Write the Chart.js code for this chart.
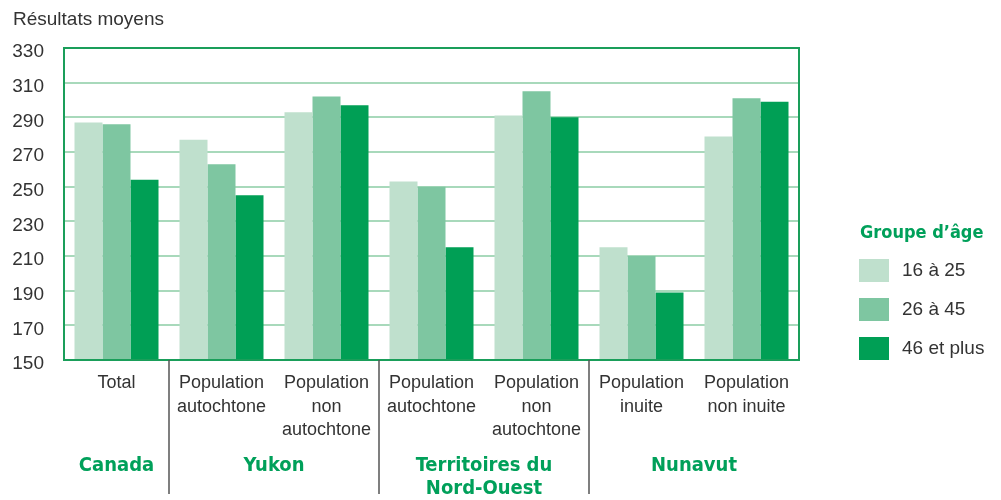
<!DOCTYPE html>
<html>
<head>
<meta charset="utf-8">
<script src="https://cdn.jsdelivr.net/npm/chart.js@4"></script>
<style>
  body { margin: 0; background: #fff; }
  #wrap { width: 1001px; height: 500px; }
</style>
</head>
<body>
<div id="wrap"><canvas id="chart" width="1001" height="500"></canvas></div>
<script>
// categories (x axis, one per bar group)
const categories = [
  ['Total'],
  ['Population', 'autochtone'],
  ['Population', 'non', 'autochtone'],
  ['Population', 'autochtone'],
  ['Population', 'non', 'autochtone'],
  ['Population', 'inuite'],
  ['Population', 'non inuite']
];
// regions and how many categories each spans
const regions = ['Canada', 'Yukon', ['Territoires du', 'Nord-Ouest'], 'Nunavut'];
const regionSpans = [1, 2, 2, 2];

const seriesNames = ['16 à 25', '26 à 45', '46 et plus'];
const age16to25 = [287, 277, 293, 253, 291, 215, 279];
const age26to45 = [286, 263, 302, 250, 305, 210, 301];
const age46plus = [254, 245, 297, 215, 290, 189, 299];

const yTicks = [150, 170, 190, 210, 230, 250, 270, 290, 310, 330];
const yTitle = 'Résultats moyens';
const legendTitle = 'Groupe d\u2019âge';

const colors = ['#bfe0cd', '#7ec6a1', '#009f55'];
const textColor = '#333333';
const green = '#1a9e5a';
const font = '"Liberation Sans", Arial, sans-serif';
const narrow = '"Liberation Sans Narrow", "DejaVu Sans Condensed", sans-serif';

const extras = {
  id: 'extras',
  afterDraw(chart) {
    const ctx = chart.ctx;
    const a = chart.chartArea;
    const x = chart.scales.x;
    ctx.save();

    // plot frame
    ctx.strokeStyle = green;
    ctx.lineWidth = 2;
    ctx.strokeRect(a.left, a.top, a.right - a.left, a.bottom - a.top);

    // y title
    ctx.fillStyle = textColor;
    ctx.font = '19px ' + font;
    ctx.textAlign = 'left';
    ctx.textBaseline = 'middle';
    ctx.fillText(yTitle, 13, 20);

    // region separators and names
    const half = (x.getPixelForValue(1) - x.getPixelForValue(0)) / 2;
    let start = 0;
    regions.forEach((name, i) => {
      const end = start + regionSpans[i] - 1;
      const left = x.getPixelForValue(start) - half;
      const right = x.getPixelForValue(end) + half;
      if (i > 0) {
        ctx.strokeStyle = '#555555';
        ctx.lineWidth = 1.5;
        ctx.beginPath();
        ctx.moveTo(left, a.bottom);
        ctx.lineTo(left, 494);
        ctx.stroke();
      }
      const lines = Array.isArray(name) ? name : [name];
      ctx.fillStyle = '#00a05a';
      ctx.font = 'bold 20px ' + narrow;
      ctx.textAlign = 'center';
      lines.forEach((ln, j) => ctx.fillText(ln, (left + right) / 2, 466 + j * 23));
      start = end + 1;
    });

    // legend
    ctx.textAlign = 'left';
    ctx.fillStyle = '#00a05a';
    ctx.font = 'bold 18px ' + narrow;
    ctx.fillText(legendTitle, 860, 233);
    chart.data.datasets.forEach((ds, i) => {
      const y = 259 + i * 39;
      ctx.fillStyle = ds.backgroundColor;
      ctx.fillRect(859, y, 30, 23);
      ctx.fillStyle = textColor;
      ctx.font = '19px ' + font;
      ctx.fillText(ds.label, 902, y + 12);
    });
    ctx.restore();
  }
};

new Chart(document.getElementById('chart'), {
  type: 'bar',
  data: {
    labels: categories,
    datasets: [
      { label: seriesNames[0], data: age16to25, backgroundColor: colors[0] },
      { label: seriesNames[1], data: age26to45, backgroundColor: colors[1] },
      { label: seriesNames[2], data: age46plus, backgroundColor: colors[2] }
    ]
  },
  options: {
    responsive: false,
    animation: false,
    layout: { padding: { top: 48, right: 202, left: 0, bottom: 0 } },
    datasets: { bar: { categoryPercentage: 0.8, barPercentage: 1.0, borderWidth: 0 } },
    plugins: { legend: { display: false }, tooltip: { enabled: false } },
    scales: {
      x: {
        afterFit(s) { s.height = 140; },
        grid: { display: false, drawTicks: false },
        border: { display: false },
        ticks: {
          color: textColor,
          padding: 12,
          maxRotation: 0,
          autoSkip: false,
          font: { family: font, size: 18, lineHeight: 1.28 }
        }
      },
      y: {
        min: 150,
        max: 330,
        afterFit(s) { s.width = 64; },
        afterBuildTicks(s) { s.ticks = yTicks.map(v => ({ value: v })); },
        grid: { color: '#a8d9bb', lineWidth: 2, drawTicks: false },
        border: { display: false },
        ticks: {
          color: textColor,
          padding: 20,
          labelOffset: 4,
          font: { family: font, size: 19 }
        }
      }
    }
  },
  plugins: [extras]
});
</script>
</body>
</html>
